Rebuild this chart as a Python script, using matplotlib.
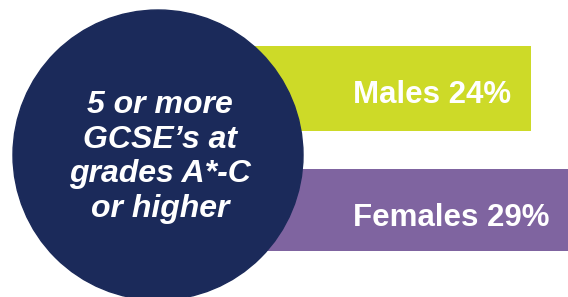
import matplotlib
matplotlib.use("Agg")
import matplotlib.pyplot as plt
from matplotlib.patches import Circle

# GCSE results: 5 or more at grades A*-C
groups = ["Males", "Females"]
shares = [24, 29]
headline = ["5 or more", "GCSE\u2019s at", "grades A*-C", "or higher"]

navy = "#1b2a5a"
bar_colors = ["#cdda28", "#7f64a0"]

W, H = 568, 297
fig = plt.figure(figsize=(W / 100, H / 100), dpi=100)

# bars: value 0 sits behind the circle (~x=250px), 24% ends at ~531px
ax = fig.add_axes([0, 0, 1, 1])
px_per_pct = (531 - 250) / 24
ax.set_xlim(-250 / px_per_pct, (W - 250) / px_per_pct)
ax.set_ylim(H, 0)
ax.barh([88.5, 210], shares, height=[85, 82], left=0, color=bar_colors)
ax.axis("off")

# overlay in pixel units for the circle and labels
ov = fig.add_axes([0, 0, 1, 1])
ov.set_xlim(0, W)
ov.set_ylim(H, 0)
ov.patch.set_alpha(0)
ov.axis("off")
ov.add_patch(Circle((158, 155), 145, color=navy))

for i, line in enumerate(headline):
    ov.text(160, 112.7 + i * 34.8, line, ha="center", va="baseline",
            color="white", fontsize=23, fontweight="bold", fontstyle="italic",
            family="Liberation Sans")

label_pos = [(432, 103), (451, 226)]
for (x, y), g, s in zip(label_pos, groups, shares):
    ov.text(x, y, f"{g} {s}%", ha="center", va="baseline", color="white",
            fontsize=22.5, fontweight="bold", family="Liberation Sans")

fig.savefig("out.png", dpi=100)
